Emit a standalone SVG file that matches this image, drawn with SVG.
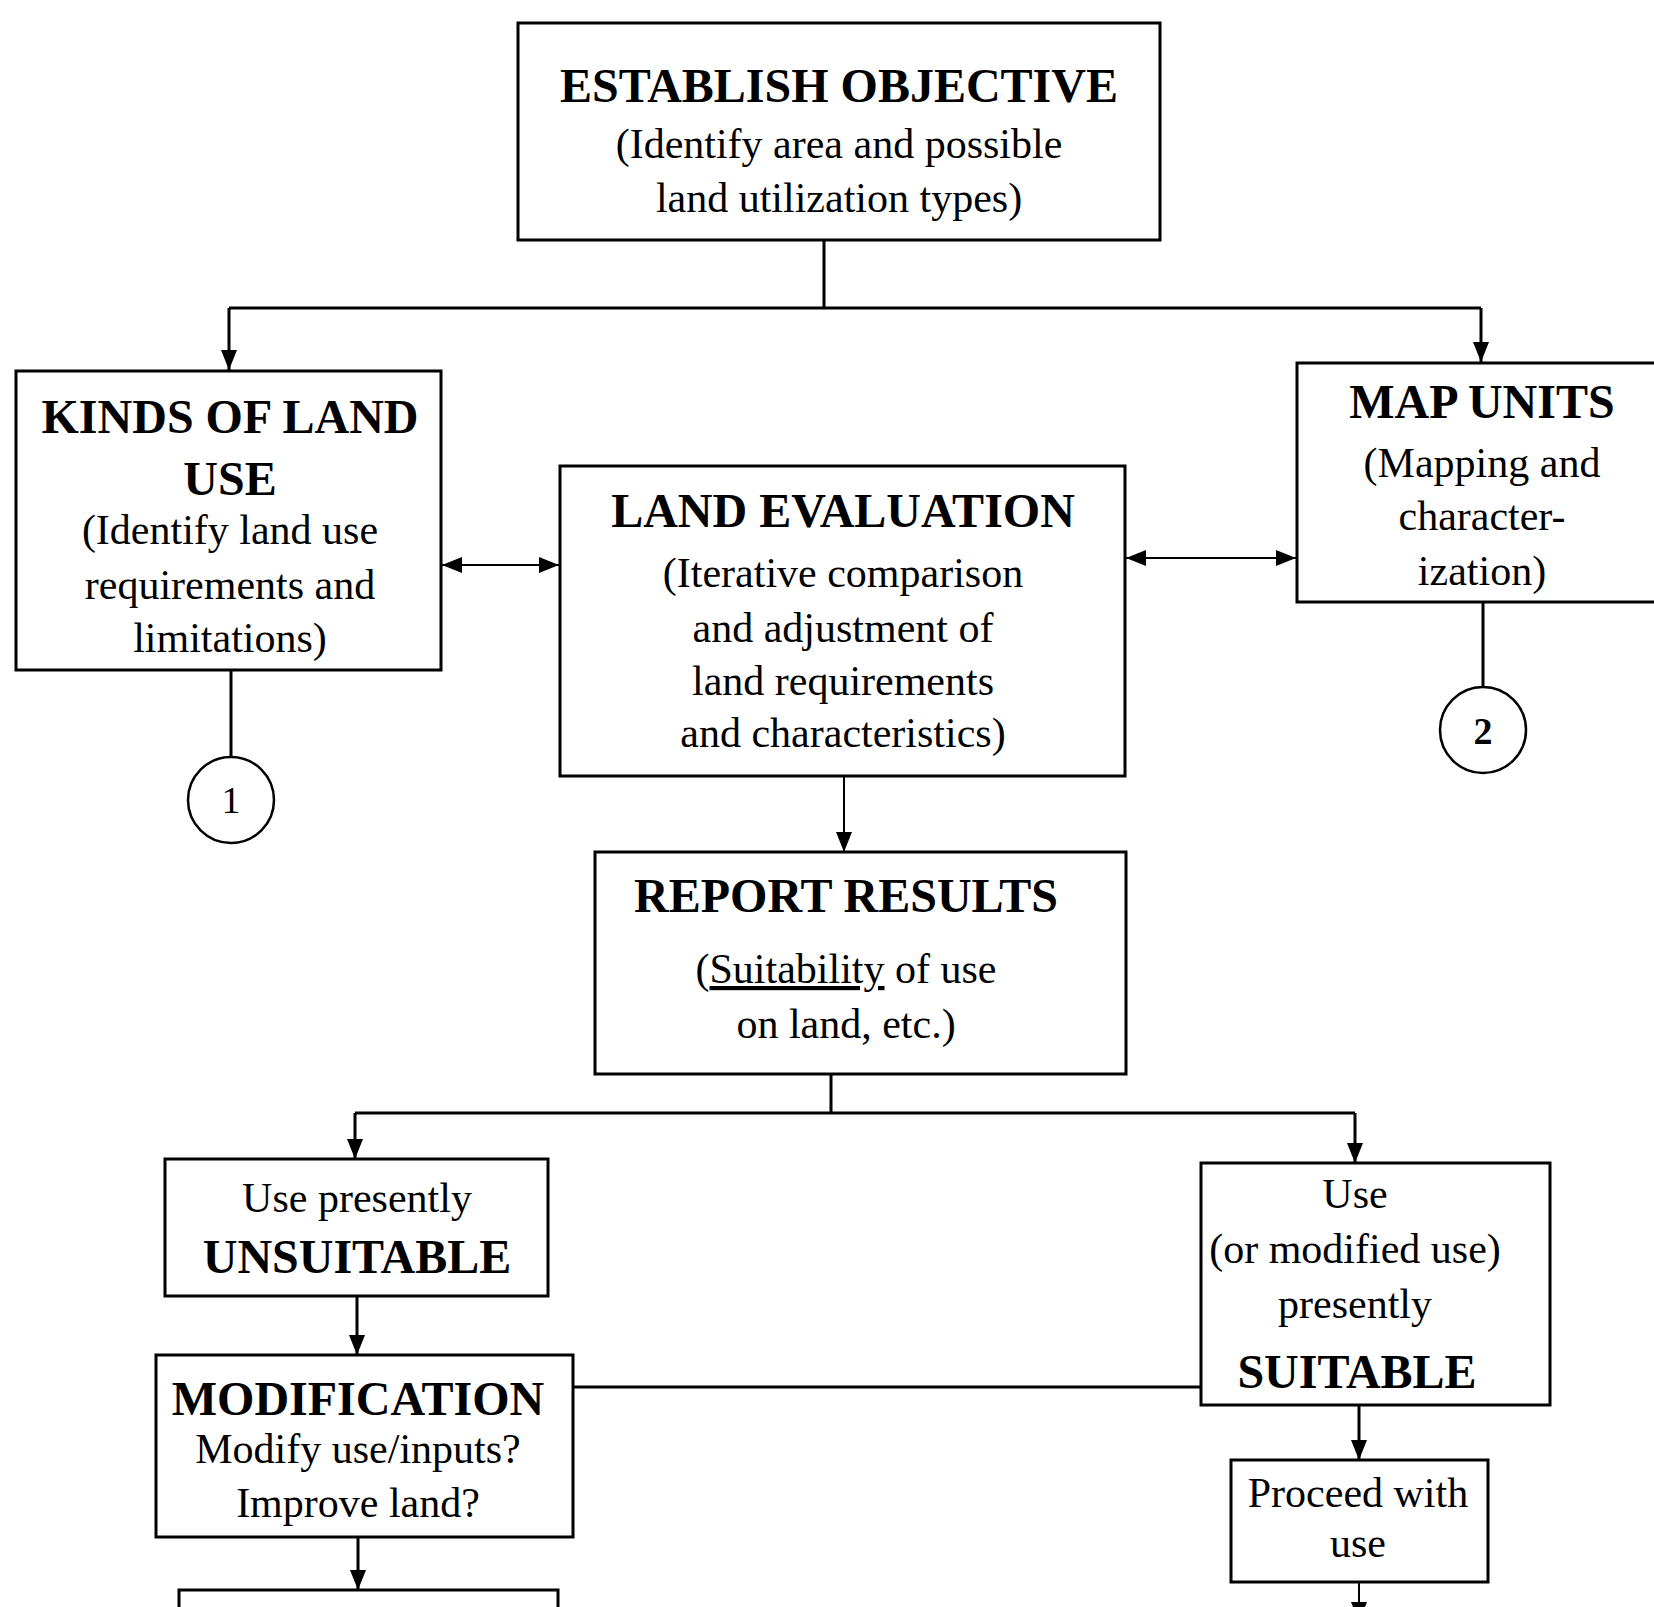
<svg xmlns="http://www.w3.org/2000/svg" width="1654" height="1607" viewBox="0 0 1654 1607">
<style>
.box{fill:#fff;stroke:#000;stroke-width:3}
.ln{fill:none;stroke:#000;stroke-width:3}
.thin{fill:none;stroke:#000;stroke-width:2}
text{font-family:"Liberation Serif","Times New Roman",serif;fill:#000;text-anchor:middle}
.t{font-size:48px;font-weight:bold}
.b{font-size:42px}
.n{font-size:38px}
</style>
<defs>
<marker id="arr" viewBox="0 0 20 16" refX="20" refY="8" markerWidth="20" markerHeight="16" markerUnits="userSpaceOnUse" orient="auto-start-reverse">
<path d="M0,0 L20,8 L0,16 z" fill="#000"/>
</marker>
</defs>
<rect width="1654" height="1607" fill="#fff"/>

<g id="connectors">
<path class="ln" d="M824,240 V308"/>
<path class="ln" d="M229,308 H1481"/>
<path class="ln" d="M229,308 V370" marker-end="url(#arr)"/>
<path class="ln" d="M1481,308 V362" marker-end="url(#arr)"/>
<path class="thin" d="M442,565 H559" marker-start="url(#arr)" marker-end="url(#arr)"/>
<path class="thin" d="M1126,558 H1296" marker-start="url(#arr)" marker-end="url(#arr)"/>
<path class="ln" d="M231,670 V757"/>
<path class="ln" d="M1483,602 V687"/>
<path class="thin" d="M844,776 V852" marker-end="url(#arr)"/>
<path class="ln" d="M831,1074 V1113"/>
<path class="ln" d="M355,1113 H1355"/>
<path class="ln" d="M355,1113 V1159" marker-end="url(#arr)"/>
<path class="ln" d="M1355,1113 V1163" marker-end="url(#arr)"/>
<path class="ln" d="M357,1296 V1355" marker-end="url(#arr)"/>
<path class="ln" d="M358,1537 V1590" marker-end="url(#arr)"/>
<path class="ln" d="M573,1387 H1200"/>
<path class="ln" d="M1359,1405 V1460" marker-end="url(#arr)"/>
<path class="thin" d="M1359,1582 V1622" marker-end="url(#arr)"/>
</g>

<g id="establish-objective">
<rect class="box" x="518" y="23" width="642" height="217"/>
<text class="t" x="839" y="102">ESTABLISH OBJECTIVE</text>
<text class="b" x="839" y="158">(Identify area and possible</text>
<text class="b" x="839" y="212">land utilization types)</text>
</g>

<g id="kinds-of-land-use">
<rect class="box" x="16" y="371" width="425" height="299"/>
<text class="t" x="230" y="433">KINDS OF LAND</text>
<text class="t" x="230" y="495">USE</text>
<text class="b" x="230" y="544">(Identify land use</text>
<text class="b" x="230" y="599">requirements and</text>
<text class="b" x="230" y="652">limitations)</text>
</g>

<g id="land-evaluation">
<rect class="box" x="560" y="466" width="565" height="310"/>
<text class="t" x="843" y="527">LAND EVALUATION</text>
<text class="b" x="843" y="587">(Iterative comparison</text>
<text class="b" x="843" y="642">and adjustment of</text>
<text class="b" x="843" y="695">land requirements</text>
<text class="b" x="843" y="747">and characteristics)</text>
</g>

<g id="map-units">
<rect class="box" x="1297" y="363" width="380" height="239"/>
<text class="t" x="1482" y="418">MAP UNITS</text>
<text class="b" x="1482" y="477">(Mapping and</text>
<text class="b" x="1482" y="530">character-</text>
<text class="b" x="1482" y="585">ization)</text>
</g>

<g id="circle-1">
<circle cx="231" cy="800" r="43" fill="#fff" stroke="#000" stroke-width="2.5"/>
<text class="n" x="231" y="813">1</text>
</g>

<g id="circle-2">
<circle cx="1483" cy="730" r="43" fill="#fff" stroke="#000" stroke-width="2.5"/>
<text class="n" x="1483" y="744" font-weight="bold">2</text>
</g>

<g id="report-results">
<rect class="box" x="595" y="852" width="531" height="222"/>
<text class="t" x="846" y="912">REPORT RESULTS</text>
<text class="b" x="846" y="983">(<tspan text-decoration="underline">Suitability</tspan> of use</text>
<text class="b" x="846" y="1038">on land, etc.)</text>
</g>

<g id="unsuitable">
<rect class="box" x="165" y="1159" width="383" height="137"/>
<text class="b" x="357" y="1212">Use presently</text>
<text class="t" x="357" y="1273">UNSUITABLE</text>
</g>

<g id="modification">
<rect class="box" x="156" y="1355" width="417" height="182"/>
<text class="t" x="358" y="1415">MODIFICATION</text>
<text class="b" x="358" y="1463">Modify use/inputs?</text>
<text class="b" x="358" y="1517">Improve land?</text>
</g>

<g id="next-box">
<rect class="box" x="179" y="1590" width="379" height="40"/>
</g>

<g id="suitable">
<rect class="box" x="1201" y="1163" width="349" height="242"/>
<text class="b" x="1355" y="1208">Use</text>
<text class="b" x="1355" y="1263">(or modified use)</text>
<text class="b" x="1355" y="1318">presently</text>
<text class="t" x="1357" y="1388">SUITABLE</text>
</g>

<g id="proceed-with-use">
<rect class="box" x="1231" y="1460" width="257" height="122"/>
<text class="b" x="1358" y="1507">Proceed with</text>
<text class="b" x="1358" y="1557">use</text>
</g>
</svg>
